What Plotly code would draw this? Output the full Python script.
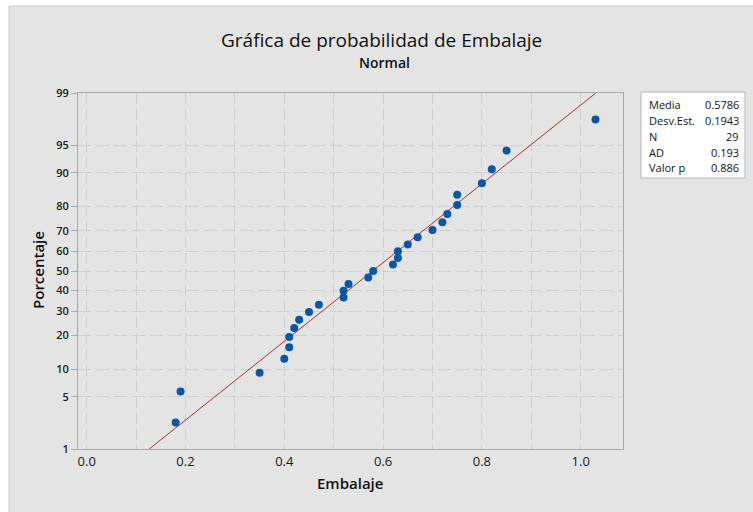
import plotly.graph_objects as go
from statistics import NormalDist

# ---- data ----
embalaje = [0.18, 0.19, 0.35, 0.40, 0.41, 0.41, 0.42, 0.43, 0.45, 0.47,
            0.52, 0.52, 0.53, 0.57, 0.58, 0.62, 0.63, 0.63, 0.65, 0.67,
            0.70, 0.72, 0.73, 0.75, 0.75, 0.80, 0.82, 0.85, 1.03]
stat_labels = ["Media", "Desv.Est.", "N", "AD", "Valor p"]
stat_values = ["0.5786", "0.1943", "29", "0.193", "0.886"]
media = 0.5786
desv = 0.1943
pct_ticks = [1, 5, 10, 20, 30, 40, 50, 60, 70, 80, 90, 95, 99]
x_ticks = [0.0, 0.2, 0.4, 0.6, 0.8, 1.0]

nd = NormalDist()
n = len(embalaje)
xs = sorted(embalaje)
# median-rank plotting positions (as Minitab), mapped to normal quantiles
zs = [nd.inv_cdf((i + 1 - 0.3) / (n + 0.4)) for i in range(n)]

z_lo, z_hi = nd.inv_cdf(0.01), nd.inv_cdf(0.99)
fit_z = [z_lo, z_hi]
fit_x = [media + z * desv for z in fit_z]

# layout geometry (plot area in pixels)
L, R, T, B = 78, 623, 93, 449
W, H = R - L, B - T
def px(x): return (x - L) / W
def py(y): return (B - y) / H

FONT = "Open Sans"
DARK = "#1a1a1a"
GRID = "#cfcfcf"

fig = go.Figure()
fig.add_trace(go.Scatter(x=fit_x, y=fit_z, mode="lines",
                         line=dict(color="#a8322f", width=1),
                         hoverinfo="skip", showlegend=False))
fig.add_trace(go.Scatter(x=xs, y=zs, mode="markers",
                         marker=dict(color="#0a57a8", size=8, line=dict(width=0)),
                         showlegend=False))

shapes = [
    dict(type="rect", xref="paper", yref="paper", layer="below",
         x0=px(9), x1=px(770), y0=py(530), y1=py(6),
         fillcolor="#e4e4e4", line=dict(color="#c9c9c9", width=1)),
    dict(type="rect", xref="paper", yref="paper",
         x0=px(641), x1=px(745), y0=py(178), y1=py(92),
         fillcolor="white", line=dict(color="#b4b4b4", width=1)),
]

annotations = [
    dict(text="Gráfica de probabilidad de Embalaje", x=px(381), y=py(40),
         xref="paper", yref="paper", showarrow=False, xanchor="center", yanchor="middle",
         font=dict(family=FONT, size=19, color="#111", weight=500)),
    dict(text="Normal", x=px(384), y=py(62),
         xref="paper", yref="paper", showarrow=False, xanchor="center", yanchor="middle",
         font=dict(family=FONT, size=14, color="#111", weight=600)),
    dict(text="Embalaje", x=px(350), y=py(483),
         xref="paper", yref="paper", showarrow=False, xanchor="center", yanchor="middle",
         font=dict(family=FONT, size=15, color="#111", weight=600)),
    dict(text="Porcentaje", x=px(38), y=py(270), textangle=-90,
         xref="paper", yref="paper", showarrow=False, xanchor="center", yanchor="middle",
         font=dict(family=FONT, size=15, color="#111", weight=600)),
]
row_y = [104, 120, 136, 152, 167]
for lab, val, ry in zip(stat_labels, stat_values, row_y):
    annotations.append(dict(text=lab, x=px(647), y=py(ry), xref="paper", yref="paper",
                            showarrow=False, xanchor="left", yanchor="middle",
                            font=dict(family=FONT, size=11, color="#111", weight=500)))
    annotations.append(dict(text=val, x=px(741), y=py(ry), xref="paper", yref="paper",
                            showarrow=False, xanchor="right", yanchor="middle",
                            font=dict(family=FONT, size=11, color="#111", weight=500)))

fig.update_layout(
    width=753, height=512,
    margin=dict(l=L, r=753 - R, t=T, b=512 - B),
    paper_bgcolor="white", plot_bgcolor="white",
    shapes=shapes, annotations=annotations,
    xaxis=dict(range=[(L - 86.7) / 494, (R - 86.7) / 494],
               tickvals=x_ticks, ticktext=[f"{v:.1f}" for v in x_ticks],
               ticks="", tickfont=dict(family=FONT, size=13, color=DARK, weight=500),
               showgrid=True, gridcolor=GRID, griddash="11px,5px", gridwidth=1,
               minor=dict(dtick=0.1, tick0=0, showgrid=True, gridcolor=GRID,
                          griddash="11px,5px", ticks=""),
               showline=True, linecolor="#a9a9a9", linewidth=1, mirror=True,
               zeroline=False, fixedrange=True),
    yaxis=dict(range=[z_lo, z_hi],
               tickvals=[nd.inv_cdf(p / 100) for p in pct_ticks],
               ticktext=[str(p) for p in pct_ticks],
               ticks="outside", ticklen=6, tickcolor="#a9a9a9",
               tickfont=dict(family=FONT, size=11, color=DARK, weight=600),
               showgrid=True, gridcolor=GRID, griddash="13px,5px", gridwidth=1,
               showline=True, linecolor="#a9a9a9", linewidth=1, mirror=True,
               zeroline=False, fixedrange=True),
)

fig.write_html("out.html")
